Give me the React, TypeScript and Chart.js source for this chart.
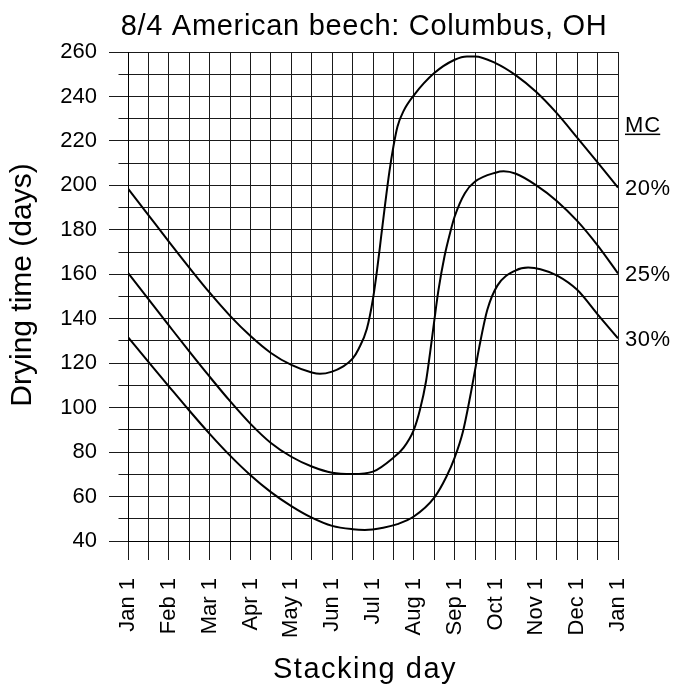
import React, { useEffect, useRef } from "react";
import { Chart, registerables } from "chart.js";

Chart.register(...registerables);

const FONT = "'Liberation Sans', Arial, Helvetica, sans-serif";

const titleText = "8/4 American beech: Columbus, OH";
const yTitleText = "Drying time (days)";
const xTitleText = "Stacking day";
const legendHeader = "MC";

// month positions: 0 = Jan 1 ... 12 = next Jan 1
const monthLabels = [
  "Jan 1", "Feb 1", "Mar 1", "Apr 1", "May 1", "Jun 1", "Jul 1",
  "Aug 1", "Sep 1", "Oct 1", "Nov 1", "Dec 1", "Jan 1",
];

const seriesNames = ["20%", "25%", "30%"];

const months20 = [0, 0.5, 1, 1.5, 2, 2.5, 3, 3.5, 4, 4.5, 4.7, 5, 5.25, 5.5, 5.65, 5.85, 6, 6.1, 6.2, 6.3, 6.4, 6.5, 6.6, 6.75, 7, 7.5, 8, 8.3, 8.5, 9, 9.5, 10, 10.5, 11, 11.5, 12];
const days20 = [198.5, 186.6, 174.7, 163, 151.7, 141.3, 132.2, 124.6, 119.2, 115.8, 115.2, 116.2, 118.3, 122, 126.5, 135.5, 149, 162, 177, 192, 206, 217.5, 226.5, 233.5, 240.5, 250.5, 256.5, 258, 258, 255, 249.5, 242, 232.5, 221.5, 210.3, 199];

const months25 = [0, 0.5, 1, 1.5, 2, 2.5, 3, 3.5, 4, 4.5, 5, 5.5, 6, 6.5, 6.75, 7, 7.15, 7.3, 7.4, 7.5, 7.6, 7.75, 7.9, 8, 8.25, 8.5, 9, 9.2, 9.5, 10, 10.5, 11, 11.5, 12];
const days25 = [160.6, 148.8, 137, 125.3, 113.9, 102.9, 92.7, 84.1, 77.9, 73.5, 70.7, 70.1, 71.2, 77.5, 82, 90, 99, 112, 125, 139, 152.5, 168, 179.5, 186, 196.5, 201.7, 205.7, 206.3, 205.2, 200, 193, 184, 173, 160.4];

const months30 = [0, 0.5, 1, 1.5, 2, 2.5, 3, 3.5, 4, 4.5, 5, 5.5, 5.8, 6.25, 6.6, 7, 7.5, 7.8, 8, 8.2, 8.38, 8.5, 8.6, 8.8, 9.05, 9.5, 9.8, 10.1, 10.5, 11, 11.5, 12];
const days30 = [131.7, 120.6, 109.6, 98.7, 88.2, 78.4, 69.6, 62, 55.7, 50.5, 46.8, 45.3, 45, 46, 47.6, 51, 59.5, 69, 77.5, 89, 105, 117, 127, 144, 155, 161.8, 163, 162.3, 159.5, 153, 142, 131.2];

const seriesMonths = [months20, months25, months30];
const seriesDays = [days20, days25, days30];

const Y_MIN = 40;
const Y_MAX = 260;
const Y_STEP = 10;
const Y_LABEL_STEP = 20;

const alignPx = (p: number) => Math.round(p - 0.5) + 0.5;

const decorPlugin = {
  id: "decor",
  afterDraw(chart: any) {
    const ctx: CanvasRenderingContext2D = chart.ctx;
    const area = chart.chartArea;
    const yScale = chart.scales.y;
    ctx.save();

    // y-axis tick marks: long at labelled values, short otherwise
    ctx.strokeStyle = "#1a1a1a";
    ctx.lineWidth = 1;
    yScale.ticks.forEach((t: any) => {
      const py = alignPx(yScale.getPixelForValue(t.value));
      const len = t.value % Y_LABEL_STEP === 0 ? 19 : 9.5;
      ctx.beginPath();
      ctx.moveTo(area.left - len, py);
      ctx.lineTo(area.left, py);
      ctx.stroke();
    });

    ctx.fillStyle = "#000";
    ctx.textBaseline = "alphabetic";

    // title
    ctx.font = `29px ${FONT}`;
    (ctx as any).letterSpacing = "0.7px";
    ctx.textAlign = "center";
    ctx.fillText(titleText, 364, 35);

    // x axis title
    (ctx as any).letterSpacing = "1.5px";
    ctx.fillText(xTitleText, 365, 678);

    // y axis title
    (ctx as any).letterSpacing = "0px";
    ctx.save();
    ctx.font = `30px ${FONT}`;
    ctx.translate(31, 285);
    ctx.rotate(-Math.PI / 2);
    ctx.textAlign = "center";
    ctx.fillText(yTitleText, 0, 0);
    ctx.restore();

    // end-of-line MC labels
    ctx.font = `22px ${FONT}`;
    (ctx as any).letterSpacing = "0.5px";
    ctx.textAlign = "left";
    const lx = area.right + 7;
    const baselines: number[] = [];
    seriesDays.forEach((vals, i) => {
      const endVal = vals[vals.length - 1];
      const py = yScale.getPixelForValue(endVal) + 7.5;
      baselines.push(py);
      ctx.fillText(seriesNames[i], lx, py);
    });
    const mcBase = baselines[0] - 63;
    (ctx as any).letterSpacing = "1px";
    ctx.fillText(legendHeader, lx, mcBase);
    const w = ctx.measureText(legendHeader).width - 1;
    ctx.fillRect(lx, mcBase + 1.5, w, 1.5);

    ctx.restore();
  },
};

export default function App() {
  const ref = useRef<HTMLCanvasElement>(null);

  useEffect(() => {
    document.body.style.margin = "0";
    const canvas = ref.current!;
    const datasets = seriesNames.map((name, i) => ({
      label: name,
      data: seriesMonths[i].map((m, j) => ({ x: m, y: seriesDays[i][j] })),
      borderColor: "#000",
      borderWidth: 2,
      pointRadius: 0,
      fill: false,
      cubicInterpolationMode: "monotone" as const,
    }));

    const chart = new Chart(canvas, {
      type: "line",
      data: { datasets },
      options: {
        responsive: false,
        animation: false,
        devicePixelRatio: 1,
        layout: { padding: { top: 52, right: 71, left: 0, bottom: 0 } },
        plugins: {
          legend: { display: false },
          tooltip: { enabled: false },
          title: { display: false },
        },
        scales: {
          x: {
            type: "linear",
            min: 0,
            max: 12,
            afterFit: (scale: any) => {
              scale.height = 145;
            },
            grid: {
              color: "#1a1a1a",
              lineWidth: 1,
              drawTicks: true,
              tickLength: 19,
              tickColor: "#1a1a1a",
            },
            border: { color: "#000", width: 1 },
            ticks: {
              stepSize: 0.5,
              maxTicksLimit: 100,
              autoSkip: false,
              minRotation: 90,
              maxRotation: 90,
              padding: 18,
              color: "#000",
              font: { family: FONT, size: 22 },
              callback: (v: any) => (Number.isInteger(v) ? monthLabels[v] : ""),
            },
          },
          y: {
            type: "linear",
            min: Y_MIN,
            max: Y_MAX,
            afterFit: (scale: any) => {
              scale.width = 128;
            },
            grid: {
              color: "#1a1a1a",
              lineWidth: 1,
              drawTicks: false,
            },
            border: { color: "#000", width: 1 },
            ticks: {
              stepSize: Y_STEP,
              maxTicksLimit: 100,
              autoSkip: false,
              padding: 31,
              color: "#000",
              font: { family: FONT, size: 22 },
              callback: (v: any) => (v % Y_LABEL_STEP === 0 ? String(v) : ""),
            },
          },
        },
      },
      plugins: [decorPlugin],
    });
    return () => chart.destroy();
  }, []);

  return (
    <canvas
      ref={ref}
      width={689}
      height={686}
      style={{ display: "block", width: 689, height: 686 }}
    />
  );
}
